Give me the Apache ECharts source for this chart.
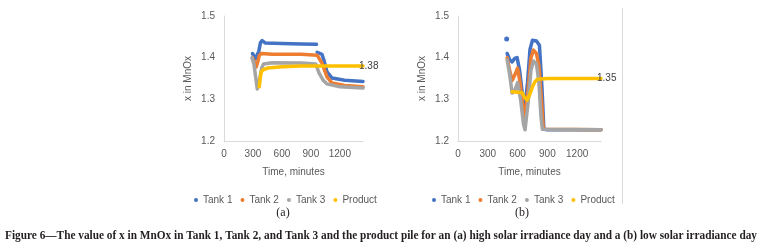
<!DOCTYPE html>
<html>
<head>
<meta charset="utf-8">
<script src="https://cdn.jsdelivr.net/npm/echarts@6/dist/echarts.min.js"></script>
<style>
  html, body { margin: 0; padding: 0; background: #fff; }
  #chart { width: 762px; height: 248px; }
</style>
</head>
<body>
<div id="chart"></div>
<script>
// series names and colours (Excel defaults)
const seriesNames = ["Tank 1", "Tank 2", "Tank 3", "Product"];
const colors = ["#4472C4", "#ED7D31", "#A5A5A5", "#FFC000"];

// axis ticks
const xTicks = [0, 300, 600, 900, 1200];
const xMax = 1440;
const yTicks = [1.2, 1.3, 1.4, 1.5];

// (a) high solar irradiance day: [time, x]
const tank1A = [[295, 1.41], [310, 1.404], [325, 1.397], [345, 1.396], [360, 1.415], [378, 1.436], [395, 1.441], [410, 1.44], [430, 1.435], [600, 1.434], [800, 1.433], [958, 1.432], [962, null], [965, 1.413], [1015, 1.408], [1040, 1.39], [1067, 1.366], [1119, 1.351], [1250, 1.346], [1440, 1.343]];
const tank2A = [[295, 1.40], [320, 1.385], [335, 1.378], [350, 1.39], [365, 1.405], [385, 1.41], [500, 1.408], [800, 1.408], [965, 1.406], [1015, 1.387], [1067, 1.354], [1119, 1.339], [1250, 1.333], [1440, 1.330]];
const tank3A = [[290, 1.40], [310, 1.385], [330, 1.35], [345, 1.325], [355, 1.322], [370, 1.35], [390, 1.375], [410, 1.385], [500, 1.388], [800, 1.387], [950, 1.385], [985, 1.363], [1030, 1.345], [1067, 1.337], [1200, 1.330], [1440, 1.327]];
const productA = [[365, 1.33], [375, 1.35], [385, 1.365], [400, 1.37], [450, 1.375], [600, 1.378], [800, 1.38], [1440, 1.38]];

// (b) low solar irradiance day: [time, x]
const tank1B = [[490, 1.445], [492, null], [495, 1.41], [520, 1.395], [545, 1.39], [570, 1.398], [595, 1.40], [620, 1.37], [650, 1.31], [675, 1.285], [700, 1.34], [725, 1.42], [750, 1.442], [790, 1.44], [820, 1.43], [845, 1.33], [865, 1.228], [900, 1.227], [1440, 1.227]];
const tank2B = [[495, 1.40], [520, 1.37], [545, 1.345], [575, 1.36], [600, 1.375], [625, 1.34], [655, 1.28], [675, 1.258], [705, 1.32], [735, 1.40], [760, 1.418], [790, 1.41], [815, 1.38], [840, 1.30], [860, 1.228], [1440, 1.227]];
const tank3B = [[495, 1.395], [520, 1.36], [545, 1.315], [570, 1.32], [600, 1.34], [630, 1.30], [660, 1.24], [675, 1.227], [705, 1.29], [735, 1.37], [760, 1.392], [790, 1.385], [815, 1.34], [835, 1.26], [850, 1.228], [1440, 1.227]];
const productB = [[545, 1.318], [600, 1.317], [645, 1.316], [670, 1.305], [695, 1.298], [720, 1.31], [750, 1.33], [775, 1.342], [800, 1.348], [900, 1.35], [1440, 1.35]];

const caption = "Figure 6\u2014The value of x in MnOx in Tank 1, Tank 2, and Tank 3 and the product pile for an (a) high solar irradiance day and a (b) low solar irradiance day";

const axisText = { color: "#595959", fontSize: 10, fontFamily: "Liberation Sans, Arial, sans-serif" };

const chart = echarts.init(document.getElementById("chart"));

const makeX = (gridIndex) => ({
  type: "value",
  gridIndex,
  min: xTicks[0],
  max: xMax,
  interval: xTicks[1] - xTicks[0],
  name: "Time, minutes",
  nameLocation: "middle",
  nameGap: 26,
  nameTextStyle: axisText,
  axisLine: { lineStyle: { color: "#d9d9d9", width: 1 } },
  axisTick: { show: false },
  splitLine: { show: false },
  axisLabel: Object.assign({ margin: 8, showMaxLabel: false, formatter: (v) => String(v) }, axisText),
});

const makeY = (gridIndex) => ({
  type: "value",
  gridIndex,
  min: yTicks[0],
  max: yTicks[yTicks.length - 1],
  interval: 0.1,
  name: "x in MnOx",
  nameLocation: "middle",
  nameGap: 31,
  nameRotate: 90,
  nameTextStyle: axisText,
  axisLine: { show: true, lineStyle: { color: "#d9d9d9", width: 1 } },
  axisTick: { show: false },
  splitLine: { show: false },
  axisLabel: Object.assign({ margin: 9, formatter: (v) => v.toFixed(1) }, axisText),
});

const prep = (arr) =>
  arr.map((p, i) => {
    // a lone point (null on both sides) gets its own marker
    const prev = arr[i - 1], next = arr[i + 1];
    const lone = p[1] != null && (!prev || prev[1] == null) && next && next[1] == null;
    return lone ? { value: p, symbol: "circle", symbolSize: 5 } : p;
  });

const makeSeries = (idx, data, axisIndex, withLabel) => ({
  name: seriesNames[idx],
  type: "line",
  xAxisIndex: axisIndex,
  yAxisIndex: axisIndex,
  data: prep(data),
  showSymbol: true,
  symbol: "none",
  connectNulls: false,
  color: colors[idx],
  lineStyle: { width: 3.5, color: colors[idx], cap: "round", join: "round" },
  animation: false,
  silent: true,
  endLabel: withLabel
    ? {
        show: true,
        formatter: (p) => p.value[1].toFixed(2),
        distance: -4,
        color: "#404040",
        fontSize: 10,
        fontFamily: "Liberation Sans, Arial, sans-serif",
      }
    : { show: false },
});

const legendBase = {
  orient: "horizontal",
  top: 190,
  itemWidth: 4,
  itemHeight: 4,
  itemGap: 8,
  icon: "circle",
  textStyle: axisText,
  selectedMode: false,
  data: seriesNames,
};

// measure caption to squeeze it onto one line like the condensed print font
const capFont = 'bold 12px "Liberation Serif", "Times New Roman", serif';
const ctx = document.createElement("canvas").getContext("2d");
ctx.font = capFont;
const capScale = 752 / ctx.measureText(caption).width;

const option = {
  backgroundColor: "#fff",
  animation: false,
  grid: [
    { left: 224, top: 16, width: 139, height: 125 },
    { left: 458, top: 16, width: 143, height: 125 },
  ],
  xAxis: [makeX(0), makeX(1)],
  yAxis: [makeY(0), makeY(1)],
  legend: [
    Object.assign({ left: 189 }, legendBase),
    Object.assign({ left: 427 }, legendBase),
  ],
  series: [
    makeSeries(0, tank1A, 0, false),
    makeSeries(1, tank2A, 0, false),
    makeSeries(2, tank3A, 0, false),
    makeSeries(3, productA, 0, true),
    makeSeries(0, tank1B, 1, false),
    makeSeries(1, tank2B, 1, false),
    makeSeries(2, tank3B, 1, false),
    makeSeries(3, productB, 1, true),
  ],
  graphic: [
    // right border of the (b) chart frame
    { type: "line", shape: { x1: 622.5, y1: 8, x2: 622.5, y2: 204 }, style: { stroke: "#d9d9d9", lineWidth: 1 } },
    { type: "text", x: 283, y: 213, style: { text: "(a)", font: '12px "Liberation Serif", serif', fill: "#231f20", textAlign: "center", textVerticalAlign: "middle" } },
    { type: "text", x: 522, y: 213, style: { text: "(b)", font: '12px "Liberation Serif", serif', fill: "#231f20", textAlign: "center", textVerticalAlign: "middle" } },
    { type: "text", x: 5, y: 236, scaleX: capScale, style: { text: caption, font: capFont, fill: "#231f20", textAlign: "left", textVerticalAlign: "middle" } },
  ],
};

chart.setOption(option);
</script>
</body>
</html>
